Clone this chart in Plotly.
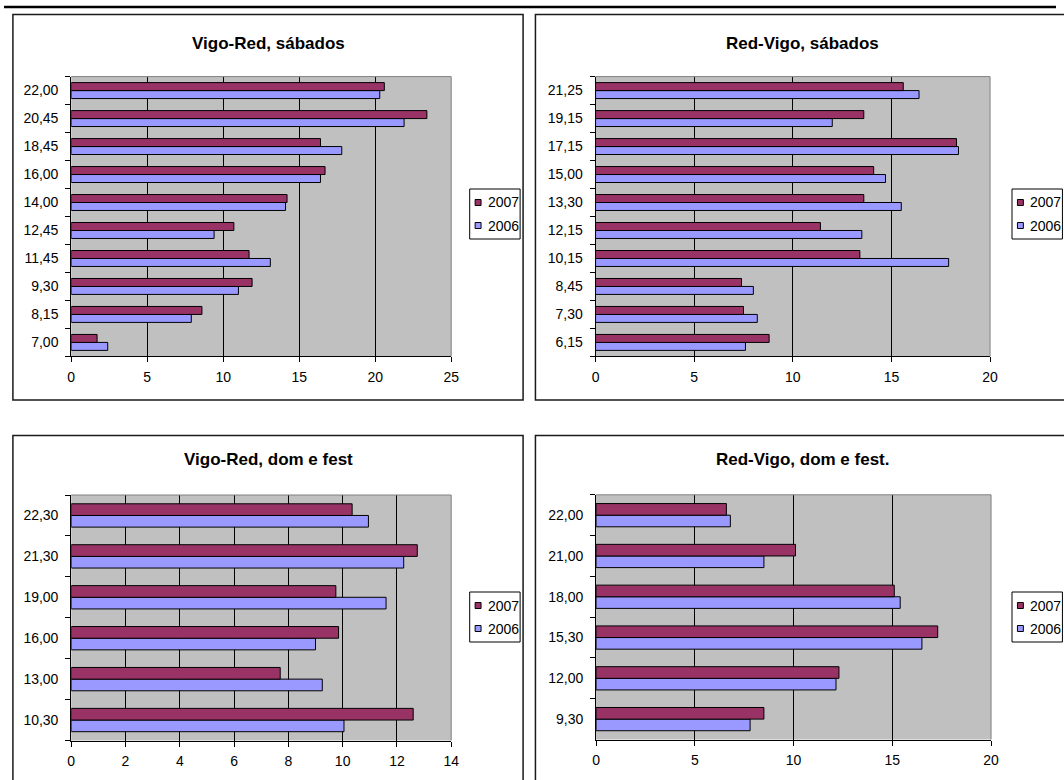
import plotly.graph_objects as go

# ---- data: passenger counts per departure time, 2007 vs 2006 ----
vigo_red_sab_horas = ["7,00", "8,15", "9,30", "11,45", "12,45", "14,00", "16,00", "18,45", "20,45", "22,00"]
vigo_red_sab_2007 = [1.7, 8.6, 11.9, 11.7, 10.7, 14.2, 16.7, 16.4, 23.4, 20.6]
vigo_red_sab_2006 = [2.4, 7.9, 11.0, 13.1, 9.4, 14.1, 16.4, 17.8, 21.9, 20.3]

red_vigo_sab_horas = ["6,15", "7,30", "8,45", "10,15", "12,15", "13,30", "15,00", "17,15", "19,15", "21,25"]
red_vigo_sab_2007 = [8.8, 7.5, 7.4, 13.4, 11.4, 13.6, 14.1, 18.3, 13.6, 15.6]
red_vigo_sab_2006 = [7.6, 8.2, 8.0, 17.9, 13.5, 15.5, 14.7, 18.4, 12.0, 16.4]

vigo_red_dom_horas = ["10,30", "13,00", "16,00", "19,00", "21,30", "22,30"]
vigo_red_dom_2007 = [12.6, 7.7, 9.85, 9.75, 12.75, 10.35]
vigo_red_dom_2006 = [10.05, 9.25, 9.0, 11.6, 12.25, 10.95]

red_vigo_dom_horas = ["9,30", "12,00", "15,30", "18,00", "21,00", "22,00"]
red_vigo_dom_2007 = [8.5, 12.3, 17.3, 15.1, 10.1, 6.6]
red_vigo_dom_2006 = [7.8, 12.15, 16.5, 15.4, 8.5, 6.8]

titles = ["Vigo-Red, sábados", "Red-Vigo, sábados", "Vigo-Red, dom e fest", "Red-Vigo, dom e fest."]
series_names = ["2007", "2006"]

# ---- styling ----
W, H = 1064, 780
FONT = "Arial, 'Liberation Sans', Helvetica, sans-serif"
C2007 = "#993366"
C2006 = "#9999FF"
PLOT_BG = "#C0C0C0"


def fx(p):
    return p / W


def fy(p):
    return 1 - p / H


# per-chart layout in pixels: plot area, x scale, chart frame, title, legend
panels = [
    dict(cats=vigo_red_sab_horas, v07=vigo_red_sab_2007, v06=vigo_red_sab_2006,
         plot=(68, 76.6, 452.3, 356.4), xmax=25, dtick=5,
         frame=(9, 14.5, 525, 400), title=(268, 43.5), legend=(471, 189)),
    dict(cats=red_vigo_sab_horas, v07=red_vigo_sab_2007, v06=red_vigo_sab_2006,
         plot=(598.3, 76.6, 997.3, 356.4), xmax=20, dtick=5,
         frame=(537.5, 14.5, 1080, 400), title=(808, 43.5), legend=(1019.5, 189)),
    dict(cats=vigo_red_dom_horas, v07=vigo_red_dom_2007, v06=vigo_red_dom_2006,
         plot=(68, 495, 452.3, 740.5), xmax=14, dtick=2,
         frame=(9, 435.5, 525, 800), title=(268, 459.5), legend=(471, 592)),
    dict(cats=red_vigo_dom_horas, v07=red_vigo_dom_2007, v06=red_vigo_dom_2006,
         plot=(598.8, 494.8, 998.3, 739.5), xmax=20, dtick=5,
         frame=(537.5, 435.5, 1080, 800), title=(808, 459), legend=(1019.5, 592)),
]

fig = go.Figure()
shapes = []
annotations = []
layout_axes = {}

# heavy rule along the top edge of the sheet
shapes.append(dict(type="line", xref="paper", yref="paper",
                   x0=0, x1=1, y0=fy(7), y1=fy(7),
                   line=dict(color="black", width=2.5)))

tickfont = dict(family=FONT, size=14, color="black")

for i, p in enumerate(panels):
    n = "" if i == 0 else str(i + 1)
    xa, ya = "x" + n, "y" + n
    x0, y0, x1, y1 = p["plot"]

    # 2006 first so it sits in the lower slot of each category
    fig.add_trace(go.Bar(
        y=p["cats"], x=p["v06"], orientation="h", name=series_names[1],
        marker=dict(color=C2006, line=dict(color="black", width=1)),
        xaxis=xa, yaxis=ya, showlegend=False))
    fig.add_trace(go.Bar(
        y=p["cats"], x=p["v07"], orientation="h", name=series_names[0],
        marker=dict(color=C2007, line=dict(color="black", width=1)),
        xaxis=xa, yaxis=ya, showlegend=False))

    layout_axes["xaxis" + n] = dict(
        domain=[fx(x0), fx(x1)], anchor=ya, range=[0, p["xmax"]],
        tick0=0, dtick=p["dtick"], showgrid=True, gridcolor="black", gridwidth=1,
        showline=True, linecolor="black", linewidth=1, zeroline=False,
        ticks="outside", ticklen=5, tickcolor="black", tickwidth=1,
        ticklabelstandoff=3, tickfont=tickfont, fixedrange=True)
    layout_axes["yaxis" + n] = dict(
        domain=[fy(y1), fy(y0)], anchor=xa, type="category",
        categoryorder="array", categoryarray=p["cats"],
        tickson="boundaries", ticks="outside", ticklen=5, tickcolor="black",
        tickwidth=1, showline=True, linecolor="black", linewidth=1,
        showgrid=False, zeroline=False, ticklabelstandoff=9,
        tickfont=tickfont, fixedrange=True)

    # plot-area border on the top and right sides
    shapes.append(dict(type="line", xref=xa + " domain", yref=ya + " domain",
                       x0=0, x1=1, y0=1, y1=1, layer="above",
                       line=dict(color="#808080", width=1)))
    shapes.append(dict(type="line", xref=xa + " domain", yref=ya + " domain",
                       x0=1, x1=1, y0=0, y1=1, layer="above",
                       line=dict(color="#808080", width=1)))

    # chart frame
    fx0, fy0, fx1, fy1 = p["frame"]
    shapes.append(dict(type="rect", xref="paper", yref="paper",
                       x0=fx(fx0), x1=fx(fx1), y0=fy(fy1), y1=fy(fy0),
                       line=dict(color="#1a1a1a", width=1.5), layer="below"))

    # chart title
    tx, ty = p["title"]
    annotations.append(dict(xref="paper", yref="paper", x=fx(tx), y=fy(ty),
                            xanchor="center", yanchor="middle", showarrow=False,
                            text=titles[i],
                            font=dict(family=FONT, size=17, color="black", weight="bold")))

    # legend box with two entries
    lx, ly = p["legend"]
    shapes.append(dict(type="rect", xref="paper", yref="paper",
                       x0=fx(lx), x1=fx(lx + 51), y0=fy(ly + 50), y1=fy(ly),
                       line=dict(color="black", width=1), fillcolor="white",
                       layer="above"))
    for k, (name, col) in enumerate(zip(series_names, [C2007, C2006])):
        cy = ly + 13.5 + 23 * k
        shapes.append(dict(type="rect", xref="paper", yref="paper",
                           x0=fx(lx + 5.5), x1=fx(lx + 11.5),
                           y0=fy(cy + 3), y1=fy(cy - 3),
                           line=dict(color="black", width=1), fillcolor=col,
                           layer="above"))
        annotations.append(dict(xref="paper", yref="paper", x=fx(lx + 16.5),
                                y=fy(cy), xanchor="left", yanchor="middle",
                                showarrow=False, text=name,
                                font=dict(family=FONT, size=14, color="black")))

fig.update_layout(
    width=W, height=H, autosize=False,
    margin=dict(l=0, r=0, t=0, b=0, pad=0),
    paper_bgcolor="white", plot_bgcolor=PLOT_BG,
    barmode="group", bargap=0.43, bargroupgap=0,
    showlegend=False,
    font=dict(family=FONT, color="black"),
    shapes=shapes, annotations=annotations,
    **layout_axes,
)

fig.write_html("out.html")
